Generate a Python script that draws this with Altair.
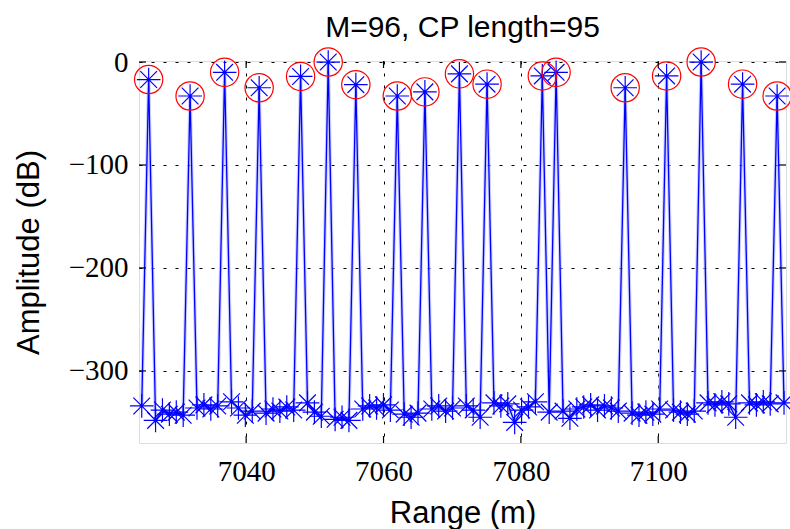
import altair as alt
import pandas as pd

# ---- data ----
range_start = 7024.8      # first range bin (m)
range_step = 1.0055       # bin spacing (m)
amplitude_db = [
    -334, -17, -348, -338, -342, -340, -343, -33, -336, -333,
    -337, -334, -10, -330, -336, -343, -339, -25, -341, -337,
    -339, -335, -338, -14, -331, -340, -344, 0, -347, -345,
    -348, -22, -337, -334, -336, -333, -338, -33, -342, -345,
    -341, -29, -337, -334, -339, -336, -11.5, -334, -338, -345,
    -21.5, -331, -334, -332, -350, -338, -335, -330, -13.5, -340,
    -10, -339, -346, -337, -335, -333, -338, -334, -336, -339,
    -25, -341, -343, -340, -342, -337, -13.5, -338, -340, -342,
    -339, 0, -331, -333, -330, -332, -345, -21.5, -331, -333,
    -330, -332, -33, -331,
]
x_ticks = [7040, 7060, 7080, 7100]
y_ticks = [0, -100, -200, -300]
x_domain = [7024.4, 7118.6]
y_domain = [-370, 1]

ranges = [round(range_start + range_step * k, 4) for k in range(len(amplitude_db))]
df = pd.DataFrame({"range": ranges, "amp": amplitude_db})
peaks = df[df["amp"] > -100]

W, H = 647, 382
xs = alt.Scale(domain=x_domain, nice=False, zero=False)
ys = alt.Scale(domain=y_domain, nice=False, zero=False)

STAR = ("M-1,0L1,0M0,-1L0,1M-0.7071,-0.7071L0.7071,0.7071"
        "M-0.7071,0.7071L0.7071,-0.7071")

x_axis = alt.Axis(values=x_ticks, title="Range (m)", format="d",
                  labelFont="Liberation Serif", labelFontSize=29, labelColor="black",
                  labelPadding=14, ticks=False, tickSize=0, domain=False,
                  grid=True, gridColor="black", gridDash=[3, 9], gridWidth=1, gridOpacity=1,
                  titleFont="Liberation Sans", titleFontSize=31, titleFontWeight="normal",
                  titleColor="black", titleY=55, titleBaseline="top")
y_axis = alt.Axis(values=y_ticks, title="Amplitude (dB)",
                  labelFont="Liberation Serif", labelFontSize=29, labelColor="black",
                  labelPadding=11, ticks=False, tickSize=0, domain=False,
                  grid=True, gridColor="black", gridDash=[3, 9], gridWidth=1, gridOpacity=1,
                  titleFont="Liberation Sans", titleFontSize=31, titleFontWeight="normal",
                  titleColor="black", titleX=-110, titleY=H / 2, titleAngle=-90,
                  titleBaseline="middle", titleAlign="center")

X = alt.X("range:Q", scale=xs, axis=x_axis)
Y = alt.Y("amp:Q", scale=ys, axis=y_axis)

base = alt.Chart(df)

halo = base.mark_line(color="#aab0ff", strokeWidth=3.5, opacity=0.6).encode(x=X, y=Y)
line = base.mark_line(color="#0000ff", strokeWidth=1.3).encode(x=X, y=Y)
stars = base.mark_point(shape=STAR, size=560, filled=False, stroke="#0000ff",
                        strokeWidth=1.2, opacity=1).encode(x=X, y=Y)
circles = alt.Chart(peaks).mark_point(shape="circle", size=800, filled=False,
                                      stroke="#ff0000", strokeWidth=1.2, opacity=1).encode(x=X, y=Y)

xt = pd.DataFrame({"range": x_ticks})
yt = pd.DataFrame({"amp": y_ticks})
tick_len = 7
xtick_b = alt.Chart(xt).mark_rule(color="black", strokeWidth=1.2).encode(
    x=X, y=alt.value(H), y2=alt.value(H - tick_len))
xtick_t = alt.Chart(xt).mark_rule(color="black", strokeWidth=1.2).encode(
    x=X, y=alt.value(0), y2=alt.value(tick_len))
ytick_l = alt.Chart(yt).mark_rule(color="black", strokeWidth=1.2).encode(
    y=Y, x=alt.value(0), x2=alt.value(tick_len))
ytick_r = alt.Chart(yt).mark_rule(color="black", strokeWidth=1.2).encode(
    y=Y, x=alt.value(W), x2=alt.value(W - tick_len))

chart = alt.layer(halo, line, stars, circles, xtick_b, xtick_t, ytick_l, ytick_r).properties(
    width=W, height=H,
    title=alt.TitleParams("M=96, CP length=95", font="Liberation Sans", fontSize=30,
                          fontWeight="normal", color="black", anchor="middle",
                          baseline="alphabetic", offset=9, dy=31),
    padding={"left": 139, "top": 61, "right": 4, "bottom": 86},
    autosize=alt.AutoSizeParams(type="none"),
).configure_view(stroke="black", strokeWidth=1.2).configure(background="white")

chart.save("out.html", embed_options={"renderer": "svg", "actions": False})
